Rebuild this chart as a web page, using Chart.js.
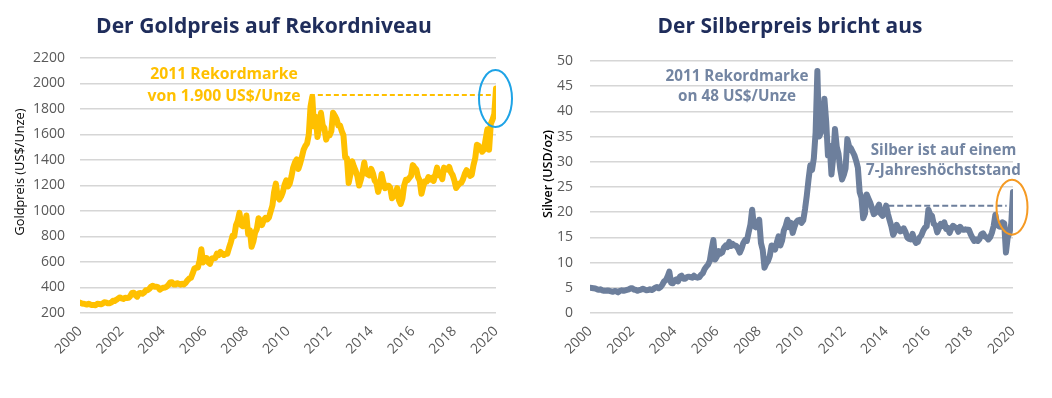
<!DOCTYPE html>
<html><head><meta charset="utf-8">
<script src="https://cdn.jsdelivr.net/npm/chart.js@4.4.0/dist/chart.umd.min.js"></script>
<style>
html,body{margin:0;padding:0;background:#fff;}
#wrap{position:relative;width:1052px;height:398px;overflow:hidden;}
.box{position:absolute;top:0;width:526px;height:398px;}
</style></head><body>
<div id="wrap">
<div class="box" style="left:0"><canvas id="gold"></canvas></div>
<div class="box" style="left:526px"><canvas id="silver"></canvas></div>
</div>
<script>
// ---- data (monthly, first value at 2000) ----
const startYear = 2000;
const yearTicks = [2000,2002,2004,2006,2008,2010,2012,2014,2016,2018,2020];
const goldTicks = [200,400,600,800,1000,1200,1400,1600,1800,2000,2200];
const silverTicks = [0,5,10,15,20,25,30,35,40,45,50];
const goldPrices = [282,275,273,270,266,272,
266,262,263,261,272,270,268,273,284,283,276,276,
282,296,294,303,314,322,314,310,319,317,319,333,
357,359,340,328,355,356,351,360,379,379,389,407,
414,405,406,403,383,392,398,400,406,420,439,442,
424,423,434,429,422,430,424,437,456,470,476,510,
549,555,557,610,700,596,633,632,598,585,627,629,
631,665,654,679,667,655,665,665,712,754,806,803,
889,922,985,890,880,889,965,820,850,720,760,830,
858,943,924,890,928,946,934,949,996,1043,1150,1215,
1118,1090,1113,1148,1205,1240,1193,1215,1271,1342,1380,1405,
1330,1372,1424,1480,1510,1529,1600,1820,1895,1665,1739,1580,
1656,1770,1673,1650,1560,1596,1594,1626,1770,1747,1721,1670,
1671,1627,1593,1420,1414,1220,1286,1390,1349,1316,1275,1200,
1244,1300,1380,1299,1287,1279,1330,1296,1239,1222,1150,1200,
1290,1227,1179,1198,1199,1181,1100,1117,1125,1180,1086,1055,
1097,1199,1245,1242,1260,1276,1360,1341,1326,1266,1238,1135,
1192,1234,1231,1266,1246,1260,1236,1283,1340,1280,1283,1250,
1340,1331,1325,1345,1303,1282,1238,1180,1199,1215,1221,1250,
1291,1320,1300,1276,1284,1359,1413,1520,1511,1495,1465,1480,
1560,1640,1480,1683,1716,1760,1960];
const silverPrices = [5.0,4.95,4.9,4.85,4.7,4.6,
4.7,4.5,4.4,4.4,4.45,4.4,4.3,4.2,4.35,4.3,4.1,4.4,
4.5,4.4,4.5,4.6,4.7,4.9,4.9,4.6,4.6,4.4,4.55,4.65,
4.8,4.65,4.5,4.55,4.7,4.55,4.75,5.0,5.15,4.9,5.15,5.6,
6.25,6.5,7.2,8.2,6.0,5.9,6.5,6.7,6.3,7.2,7.4,6.8,
6.8,7.1,7.2,7.1,7.0,7.4,7.1,7.0,7.1,7.6,7.9,8.7,
9.2,9.6,10.4,12.6,14.5,10.6,11.2,12.3,11.8,12.0,13.0,13.4,
13.1,14.1,13.3,13.7,13.4,13.3,12.8,12.0,12.8,13.9,14.5,14.3,
16.0,17.5,20.5,17.3,17.0,17.2,18.5,13.9,12.5,9.0,9.8,10.3,
11.3,13.4,13.0,12.6,14.0,15.2,13.4,14.4,16.4,17.2,18.5,17.0,
17.9,15.9,17.1,18.0,18.4,18.5,17.9,18.4,20.6,23.3,26.5,29.3,
28.4,30.7,35.8,48.0,35.0,35.8,38.0,42.5,38.0,31.3,33.2,27.5,
30.9,36.5,33.0,31.6,28.5,26.5,27.4,28.7,34.5,33.1,32.7,32.0,
31.3,30.2,28.8,24.0,22.9,18.8,19.7,23.5,22.7,21.9,20.8,19.6,
19.9,20.8,21.5,19.7,19.3,19.9,21.3,19.7,18.4,17.2,15.5,16.2,
17.5,16.8,16.2,16.3,16.8,16.1,15.0,14.7,14.6,15.7,14.5,13.9,
14.1,15.0,15.4,16.3,16.9,17.2,20.5,19.6,19.3,17.7,17.4,16.0,
16.8,17.7,17.3,18.0,16.7,16.9,15.9,16.8,17.3,17.0,16.9,16.1,
17.1,16.6,16.5,16.6,16.5,16.5,15.6,14.9,14.3,14.6,14.3,14.7,
15.6,15.8,15.2,15.0,14.6,15.0,15.9,17.2,19.5,17.6,17.2,17.1,
18.0,17.8,12.0,15.0,15.8,17.7,24.0];
const goldRecord = 1910;      // dashed 2011 record line
const silverRecord = 21.3;    // dashed 7-year-high line

// ---- styling ----
const FONT = "'Open Sans', 'DejaVu Sans', sans-serif";
const TICK_COLOR = '#595959';
const GRID_COLOR = '#d6d6d6';
const GOLD = '#FFC000';
const SLATE = '#6D7F9C';
const SLATE_TEXT = '#7385A2';
const NAVY = '#1F2D5B';

function fitSize(ctx, text, weight, target) {
  ctx.font = weight + ' 100px ' + FONT;
  return 100 * target / ctx.measureText(text).width;
}

const decorPlugin = {
  id: 'decor',
  afterDatasetsDraw(chart, args, o) {
    const ctx = chart.ctx, xs = chart.scales.x, ys = chart.scales.y;
    ctx.save();
    const r = o.refLine;
    ctx.setLineDash(r.dash); ctx.lineWidth = r.width; ctx.strokeStyle = r.color;
    ctx.beginPath();
    ctx.moveTo(xs.getPixelForValue(r.from), ys.getPixelForValue(r.value));
    ctx.lineTo(xs.getPixelForValue(r.to), ys.getPixelForValue(r.value));
    ctx.stroke();
    ctx.setLineDash([]);
    const e = o.ellipse;
    ctx.beginPath();
    ctx.ellipse(xs.getPixelForValue(e.x) + e.dx, ys.getPixelForValue(e.value), e.rx, e.ry, 0, 0, Math.PI * 2);
    ctx.strokeStyle = e.color; ctx.lineWidth = e.width; ctx.stroke();
    o.texts.forEach(t => {
      const size = fitSize(ctx, t.lines[t.fit[0]], t.weight, t.fit[1]);
      ctx.font = t.weight + ' ' + size + 'px ' + FONT;
      ctx.fillStyle = t.color; ctx.textAlign = 'center'; ctx.textBaseline = 'alphabetic';
      t.lines.forEach((ln, i) => ctx.fillText(ln, t.cx, t.y + i * t.lh));
    });
    const a = o.axisTitle;
    const s = fitSize(ctx, a.text, a.weight, a.width);
    ctx.translate(a.cx, a.cy); ctx.rotate(-Math.PI / 2);
    ctx.font = a.weight + ' ' + s + 'px ' + FONT;
    ctx.fillStyle = a.color; ctx.textAlign = 'center'; ctx.textBaseline = 'middle';
    ctx.fillText(a.text, 0, 0);
    ctx.restore();
  }
};

function makeChart(id, values, color, ticks, pad, yWidth, decor) {
  const pts = values.map((v, i) => ({x: startYear + i / 12, y: v}));
  return new Chart(document.getElementById(id), {
    type: 'line',
    data: {datasets: [{data: pts, borderColor: color, borderWidth: 6, pointRadius: 0,
      tension: 0, borderJoinStyle: 'round', borderCapStyle: 'round'}]},
    options: {
      responsive: true, maintainAspectRatio: false, animation: false,
      layout: {padding: pad},
      plugins: {legend: {display: false}, tooltip: {enabled: false}, decor: decor},
      scales: {
        x: {type: 'linear', min: yearTicks[0], max: yearTicks[yearTicks.length - 1],
          afterBuildTicks: s => { s.ticks = yearTicks.map(v => ({value: v})); },
          afterFit: s => { s.height = 85; },
          grid: {display: false, drawTicks: false}, border: {display: false},
          ticks: {minRotation: 45, maxRotation: 45, padding: 10, color: TICK_COLOR,
            font: {family: FONT, size: 14}, callback: v => String(v)}},
        y: {min: ticks[0], max: ticks[ticks.length - 1],
          afterBuildTicks: s => { s.ticks = ticks.map(v => ({value: v})); },
          afterFit: s => { s.width = yWidth; },
          grid: {color: GRID_COLOR, lineWidth: 1.5, drawTicks: false}, border: {display: false},
          ticks: {padding: pad.tp, color: TICK_COLOR, font: {family: FONT, size: 14},
            callback: v => String(v)}}
      }
    },
    plugins: [decorPlugin]
  });
}

makeChart('gold', goldPrices, GOLD, goldTicks, {left: 0, top: 58, right: 30, bottom: 0, tp: 15}, 80, {
  refLine: {from: 2011.05, to: 2019.85, value: goldRecord, dash: [5, 3], width: 2, color: GOLD},
  ellipse: {x: 2020, dx: -0.5, value: 1882, rx: 16.5, ry: 28.5, color: '#1EA3E6', width: 2},
  texts: [
    {lines: ['Der Goldpreis auf Rekordniveau'], cx: 264, y: 33, lh: 0, weight: 700, color: NAVY, fit: [0, 336]},
    {lines: ['2011 Rekordmarke', 'von 1.900 US$/Unze'], cx: 224, y: 79, lh: 21.5, weight: 700, color: GOLD, fit: [1, 153]}
  ],
  axisTitle: {text: 'Goldpreis (US$/Unze)', cx: 20, cy: 172, weight: 400, color: '#000', width: 127}
});

makeChart('silver', silverPrices, SLATE, silverTicks, {left: 0, top: 61, right: 39, bottom: 0, tp: 17}, 64, {
  refLine: {from: 2014.1, to: 2019.7, value: silverRecord, dash: [6, 3], width: 2, color: SLATE},
  ellipse: {x: 2020, dx: -1, value: 21.0, rx: 15.5, ry: 27.5, color: '#F59A23', width: 2},
  texts: [
    {lines: ['Der Silberpreis bricht aus'], cx: 264, y: 33, lh: 0, weight: 700, color: NAVY, fit: [0, 265]},
    {lines: ['2011 Rekordmarke', 'on 48 US$/Unze'], cx: 211, y: 80.5, lh: 20.5, weight: 700, color: SLATE_TEXT, fit: [0, 143]},
    {lines: ['Silber ist auf einem', '7-Jahreshöchststand'], cx: 417.5, y: 154.5, lh: 20.7, weight: 700, color: SLATE_TEXT, fit: [1, 155]}
  ],
  axisTitle: {text: 'Silver (USD/oz)', cx: 22, cy: 174, weight: 600, color: '#000', width: 88}
});
</script>
</body></html>
